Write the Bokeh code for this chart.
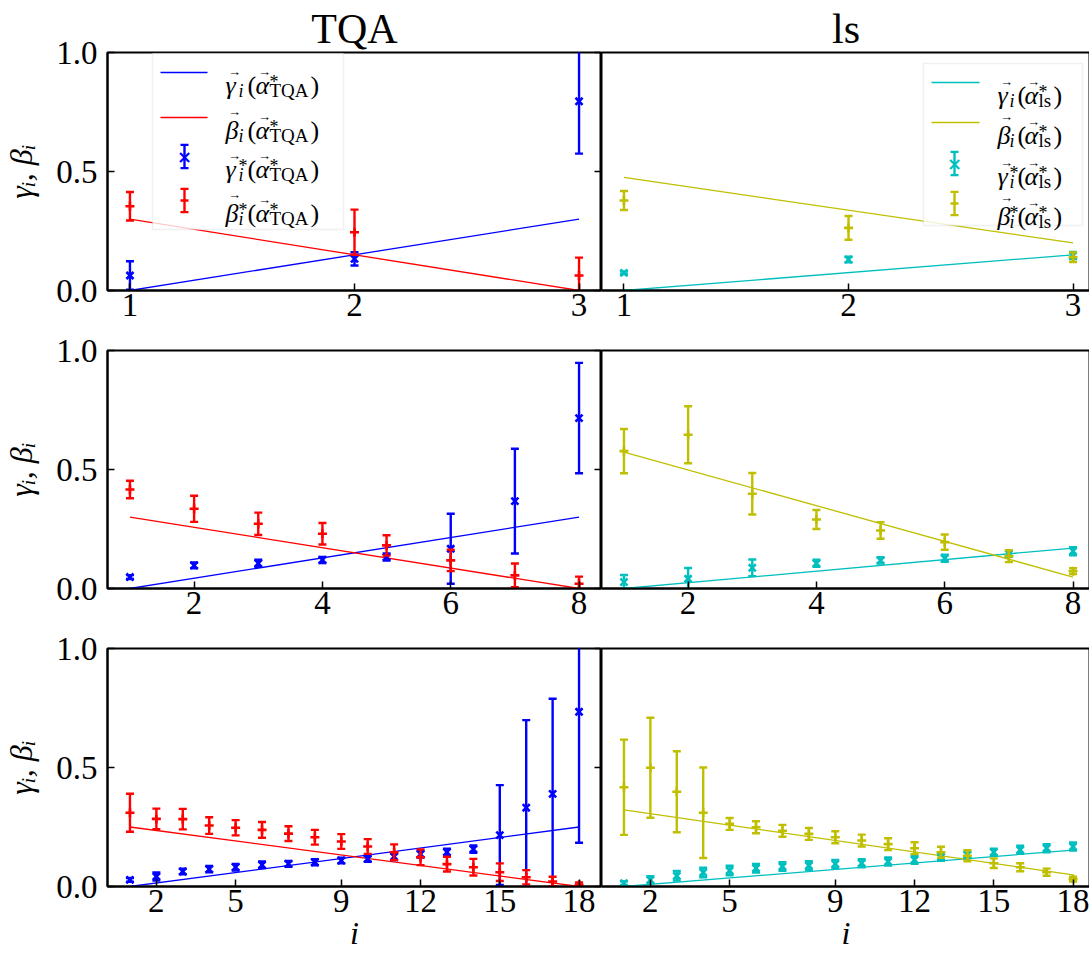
from bokeh.plotting import figure
from bokeh.layouts import gridplot
from bokeh.models import (Range1d, FixedTicker, PrintfTickFormatter, LinearAxis,
                          Label, BoxAnnotation, ColumnDataSource, CustomJSTickFormatter)
from bokeh.embed import file_html
from bokeh.resources import INLINE

# ---------------- data ----------------
methods = ["TQA", "ls"]

i_p3 = [1, 2, 3]
i_p8 = [1, 2, 3, 4, 5, 6, 7, 8]
i_p18 = [1, 2, 3, 4, 5, 6, 7, 8, 9, 10, 11, 12, 13, 14, 15, 16, 17, 18]

ticks_p3 = [1, 2, 3]
ticks_p8 = [2, 4, 6, 8]
ticks_p18 = [2, 5, 9, 12, 15, 18]
y_ticks = [0.0, 0.5, 1.0]

# straight reference lines (end points)
tqa_p3_line_x = [1, 3]
tqa_p3_gamma_line = [0.0, 0.30]
tqa_p3_beta_line = [0.30, 0.0]
ls_p3_line_x = [1, 3]
ls_p3_gamma_line = [0.0, 0.15]
ls_p3_beta_line = [0.475, 0.20]

tqa_p8_line_x = [1, 8]
tqa_p8_gamma_line = [0.0, 0.30]
tqa_p8_beta_line = [0.30, 0.0]
ls_p8_line_x = [1, 8]
ls_p8_gamma_line = [0.0, 0.17]
ls_p8_beta_line = [0.573, 0.048]

tqa_p18_line_x = [1, 18]
tqa_p18_gamma_line = [0.0, 0.25]
tqa_p18_beta_line = [0.25, 0.0]
ls_p18_line_x = [1, 18]
ls_p18_gamma_line = [0.0, 0.153]
ls_p18_beta_line = [0.322, 0.049]

# optimised values with error bars
tqa_p3_gamma = [0.063, 0.133, 0.795]
tqa_p3_gamma_err = [0.060, 0.028, 0.220]
tqa_p3_beta = [0.354, 0.245, 0.063]
tqa_p3_beta_err = [0.060, 0.095, 0.075]
ls_p3_gamma = [0.074, 0.130, 0.147]
ls_p3_gamma_err = [0.006, 0.012, 0.015]
ls_p3_beta = [0.378, 0.263, 0.140]
ls_p3_beta_err = [0.040, 0.050, 0.020]

tqa_p8_gamma = [0.048, 0.097, 0.106, 0.120, 0.132, 0.167, 0.367, 0.716]
tqa_p8_gamma_err = [0.008, 0.012, 0.015, 0.013, 0.015, 0.147, 0.220, 0.232]
tqa_p8_beta = [0.416, 0.335, 0.272, 0.230, 0.181, 0.118, 0.055, 0.020]
tqa_p8_beta_err = [0.037, 0.055, 0.047, 0.045, 0.043, 0.045, 0.050, 0.030]
ls_p8_gamma = [0.027, 0.041, 0.087, 0.106, 0.118, 0.127, 0.146, 0.157]
ls_p8_gamma_err = [0.030, 0.045, 0.035, 0.015, 0.013, 0.015, 0.013, 0.017]
ls_p8_beta = [0.577, 0.646, 0.398, 0.290, 0.244, 0.195, 0.136, 0.073]
ls_p8_beta_err = [0.093, 0.120, 0.087, 0.040, 0.035, 0.032, 0.025, 0.012]

tqa_p18_gamma = [0.028, 0.042, 0.063, 0.073, 0.081, 0.091, 0.095, 0.102, 0.109,
                 0.116, 0.126, 0.136, 0.144, 0.157, 0.216, 0.331, 0.389, 0.734]
tqa_p18_gamma_err = [0.008, 0.017, 0.012, 0.013, 0.014, 0.014, 0.012, 0.013, 0.012,
                     0.012, 0.015, 0.014, 0.015, 0.015, 0.210, 0.368, 0.400, 0.550]
tqa_p18_beta = [0.310, 0.284, 0.283, 0.256, 0.247, 0.238, 0.222, 0.207, 0.189,
                0.168, 0.144, 0.123, 0.094, 0.081, 0.060, 0.039, 0.021, 0.007]
tqa_p18_beta_err = [0.080, 0.043, 0.043, 0.035, 0.032, 0.033, 0.031, 0.031, 0.031,
                    0.031, 0.033, 0.033, 0.031, 0.035, 0.037, 0.030, 0.020, 0.010]
ls_p18_gamma = [0.014, 0.028, 0.045, 0.059, 0.067, 0.077, 0.084, 0.088, 0.095,
                0.098, 0.105, 0.112, 0.123, 0.133, 0.144, 0.154, 0.161, 0.168]
ls_p18_gamma_err = [0.008, 0.015, 0.020, 0.020, 0.020, 0.018, 0.018, 0.018, 0.017,
                    0.017, 0.017, 0.017, 0.015, 0.013, 0.015, 0.017, 0.017, 0.017]
ls_p18_beta = [0.417, 0.499, 0.398, 0.310, 0.263, 0.249, 0.234, 0.221, 0.207,
               0.193, 0.178, 0.161, 0.144, 0.129, 0.098, 0.081, 0.060, 0.031]
ls_p18_beta_err = [0.200, 0.210, 0.170, 0.190, 0.025, 0.025, 0.025, 0.025, 0.025,
                   0.025, 0.025, 0.025, 0.023, 0.023, 0.020, 0.017, 0.015, 0.010]

# ---------------- styling ----------------
SERIF = "Liberation Serif, DejaVu Serif, serif"
COLORS = {"TQA": ("#0000ff", "#ff0000"), "ls": ("#00bfbf", "#bfbf00")}
FW_L, FW_R, FH = 494, 489, 238
TICK_FS = "33px"


def style_axis(ax):
    ax.major_tick_in = 7
    ax.major_tick_out = 0
    ax.minor_tick_line_color = None
    ax.axis_line_width = 2
    ax.major_tick_line_width = 1.5
    ax.major_label_text_font = SERIF
    ax.major_label_text_font_size = TICK_FS
    ax.major_label_text_color = "black"
    ax.axis_label_text_font = SERIF
    ax.axis_label_text_font_style = "italic"
    ax.axis_label_text_font_size = "32px"
    ax.axis_label_text_color = "black"


def errorbars(p, x, y, e, color, marker, msize):
    lo = [a - b for a, b in zip(y, e)]
    hi = [a + b for a, b in zip(y, e)]
    src = ColumnDataSource(dict(x=x, y=y, lo=lo, hi=hi))
    p.segment(x0="x", y0="lo", x1="x", y1="hi", source=src, line_color=color, line_width=2.4)
    p.scatter(x="x", y="lo", marker="dash", size=8, source=src, line_color=color, line_width=2.4)
    p.scatter(x="x", y="hi", marker="dash", size=8, source=src, line_color=color, line_width=2.4)
    p.scatter(x="x", y="y", marker=marker, size=msize, source=src, line_color=color, line_width=2.6)


def sbox(p, l, r, b, t, **kw):
    p.add_layout(BoxAnnotation(left=l, right=r, bottom=b, top=t,
                               left_units="screen", right_units="screen",
                               bottom_units="screen", top_units="screen", **kw))


def slabel(p, x, y, text, size, style="normal", align="left", font=SERIF, color="black"):
    p.add_layout(Label(x=x, y=y, x_units="screen", y_units="screen", text=text,
                       text_font=font, text_font_size=f"{size}px", text_font_style=style,
                       text_align=align, text_baseline="alphabetic", text_color=color))


def legend_text(p, x, yc, letter, star, method, ofs):
    o_sub, o_par, o_alpha, o_sup, o_close = ofs
    base = yc - 13
    slabel(p, x + 1, base, letter, 26, "italic")
    slabel(p, x + 10, base + (14 if letter == "γ" else 19), "→", 13, align="center")
    if star:
        slabel(p, x + o_sub, base + 4, "*", 18)
    slabel(p, x + o_sub, base - 5, "i", 18, "italic")
    slabel(p, x + o_par, base, "(", 26)
    slabel(p, x + o_alpha, base, "α", 26, "italic")
    slabel(p, x + o_alpha + 9, base + 14, "→", 13, align="center")
    slabel(p, x + o_sup, base + 4, "*", 18)
    slabel(p, x + o_sup, base - 5, method, 19)
    slabel(p, x + o_close, base, ")", 26)


def add_legend(p, method, box, sym, err_cx, text_x, rows, ofs):
    cg, cb = COLORS[method]
    l, r, b, t = box
    sbox(p, l, r, b, t, fill_color="white", fill_alpha=0.8, line_color="#cccccc", line_width=1.5)
    entries = [("line", cg, "γ", False), ("line", cb, "β", False),
               ("err", cg, "γ", True), ("err", cb, "β", True)]
    for (kind, c, letter, star), yc in zip(entries, rows):
        if kind == "line":
            sbox(p, sym[0], sym[1], yc - 0.7, yc + 0.7, fill_color=c, fill_alpha=1, line_color=None)
        else:
            sbox(p, err_cx - 1.2, err_cx + 1.2, yc - 12, yc + 12, fill_color=c, fill_alpha=1, line_color=None)
            sbox(p, err_cx - 4, err_cx + 4, yc + 10.5, yc + 12.8, fill_color=c, fill_alpha=1, line_color=None)
            sbox(p, err_cx - 4, err_cx + 4, yc - 12.8, yc - 10.5, fill_color=c, fill_alpha=1, line_color=None)
            if letter == "γ":
                p.add_layout(Label(x=err_cx, y=yc, x_units="screen", y_units="screen", text="×",
                                   text_font="DejaVu Sans", text_font_size="18px", text_font_style="bold",
                                   text_align="center", text_baseline="middle", text_color=c))
            else:
                sbox(p, err_cx - 4, err_cx + 4, yc - 1.2, yc + 1.2, fill_color=c, fill_alpha=1, line_color=None)
        legend_text(p, text_x, yc, letter, star, method, ofs)


def make_panel(method, col, row, xs, lx, gl, bl, g, ge, b, be, ticks):
    cg, cb = COLORS[method]
    pad = 0.05 * (xs[-1] - xs[0])
    x0, x1 = xs[0] - pad, xs[-1] + pad
    fw = FW_L if col == 0 else FW_R
    if col == 1:
        x1 = x0 + (x1 - x0) * fw / FW_L
    kw = dict(frame_width=fw, frame_height=FH,
              x_range=Range1d(x0, x1), y_range=Range1d(0, 1),
              output_backend="svg", toolbar_location=None,
              min_border_left=105 if col == 0 else 0, min_border_right=0,
              min_border_top=52 if row == 0 else 19,
              min_border_bottom=78 if row == 2 else 41,
              y_axis_location="left" if col == 0 else None,
              background_fill_color="white", border_fill_color="white")
    if row == 0:
        kw["title"] = method
    p = figure(**kw)
    p.grid.visible = False
    p.outline_line_color = "black"
    p.outline_line_width = 2
    p.outline_line_alpha = 1
    if row == 0:
        p.title.align = "center"
        p.title.text_font = SERIF
        p.title.text_font_size = "42px"
        p.title.text_font_style = "normal"
        p.title.text_color = "black"
        p.title.standoff = 2
    xa = p.xaxis[0]
    xa.ticker = FixedTicker(ticks=ticks)
    style_axis(xa)
    xa.major_label_standoff = 3
    if row == 2:
        xa.axis_label = "i"
        xa.axis_label_standoff = 0
    if col == 0:
        ya = p.yaxis[0]
        ya.ticker = FixedTicker(ticks=y_ticks)
        ya.formatter = PrintfTickFormatter(format="%.1f")
        style_axis(ya)
        ya.major_label_standoff = 10
        ya.axis_label = "γᵢ, βᵢ"
        ya.axis_label_standoff = 14
        # inward tick marks on the right edge, without labels
        ra = LinearAxis(ticker=FixedTicker(ticks=y_ticks),
                        formatter=CustomJSTickFormatter(code="return ''"),
                        major_label_text_font_size="1px",
                        major_label_standoff=0, axis_line_color=None, major_tick_in=7,
                        major_tick_out=0, major_tick_line_width=1.5, minor_tick_line_color=None)
        p.add_layout(ra, "right")

    p.line(lx, gl, line_color=cg, line_width=1.3)
    p.line(lx, bl, line_color=cb, line_width=1.3)
    errorbars(p, xs, g, ge, cg, "x", 10)
    errorbars(p, xs, b, be, cb, "cross", 9)
    return p


p11 = make_panel("TQA", 0, 0, i_p3, tqa_p3_line_x, tqa_p3_gamma_line, tqa_p3_beta_line,
                 tqa_p3_gamma, tqa_p3_gamma_err, tqa_p3_beta, tqa_p3_beta_err, ticks_p3)
p12 = make_panel("ls", 1, 0, i_p3, ls_p3_line_x, ls_p3_gamma_line, ls_p3_beta_line,
                 ls_p3_gamma, ls_p3_gamma_err, ls_p3_beta, ls_p3_beta_err, ticks_p3)
p21 = make_panel("TQA", 0, 1, i_p8, tqa_p8_line_x, tqa_p8_gamma_line, tqa_p8_beta_line,
                 tqa_p8_gamma, tqa_p8_gamma_err, tqa_p8_beta, tqa_p8_beta_err, ticks_p8)
p22 = make_panel("ls", 1, 1, i_p8, ls_p8_line_x, ls_p8_gamma_line, ls_p8_beta_line,
                 ls_p8_gamma, ls_p8_gamma_err, ls_p8_beta, ls_p8_beta_err, ticks_p8)
p31 = make_panel("TQA", 0, 2, i_p18, tqa_p18_line_x, tqa_p18_gamma_line, tqa_p18_beta_line,
                 tqa_p18_gamma, tqa_p18_gamma_err, tqa_p18_beta, tqa_p18_beta_err, ticks_p18)
p32 = make_panel("ls", 1, 2, i_p18, ls_p18_line_x, ls_p18_gamma_line, ls_p18_beta_line,
                 ls_p18_gamma, ls_p18_gamma_err, ls_p18_beta, ls_p18_beta_err, ticks_p18)

# legends (screen units, relative to each frame's bottom-left corner)
add_legend(p11, "TQA", (45, 236, 61, 237), (53, 100), 77, 117,
           (218, 173, 134, 90), (14, 23, 31, 45, 86))
add_legend(p12, "ls", (322, 481, 65, 227), (330, 378), 353, 395,
           (208, 168, 127, 87), (13, 21, 28, 42, 57))

grid = gridplot([[p11, p12], [p21, p22], [p31, p32]], toolbar_location=None)

open("out.html", "w").write(file_html(grid, INLINE))
